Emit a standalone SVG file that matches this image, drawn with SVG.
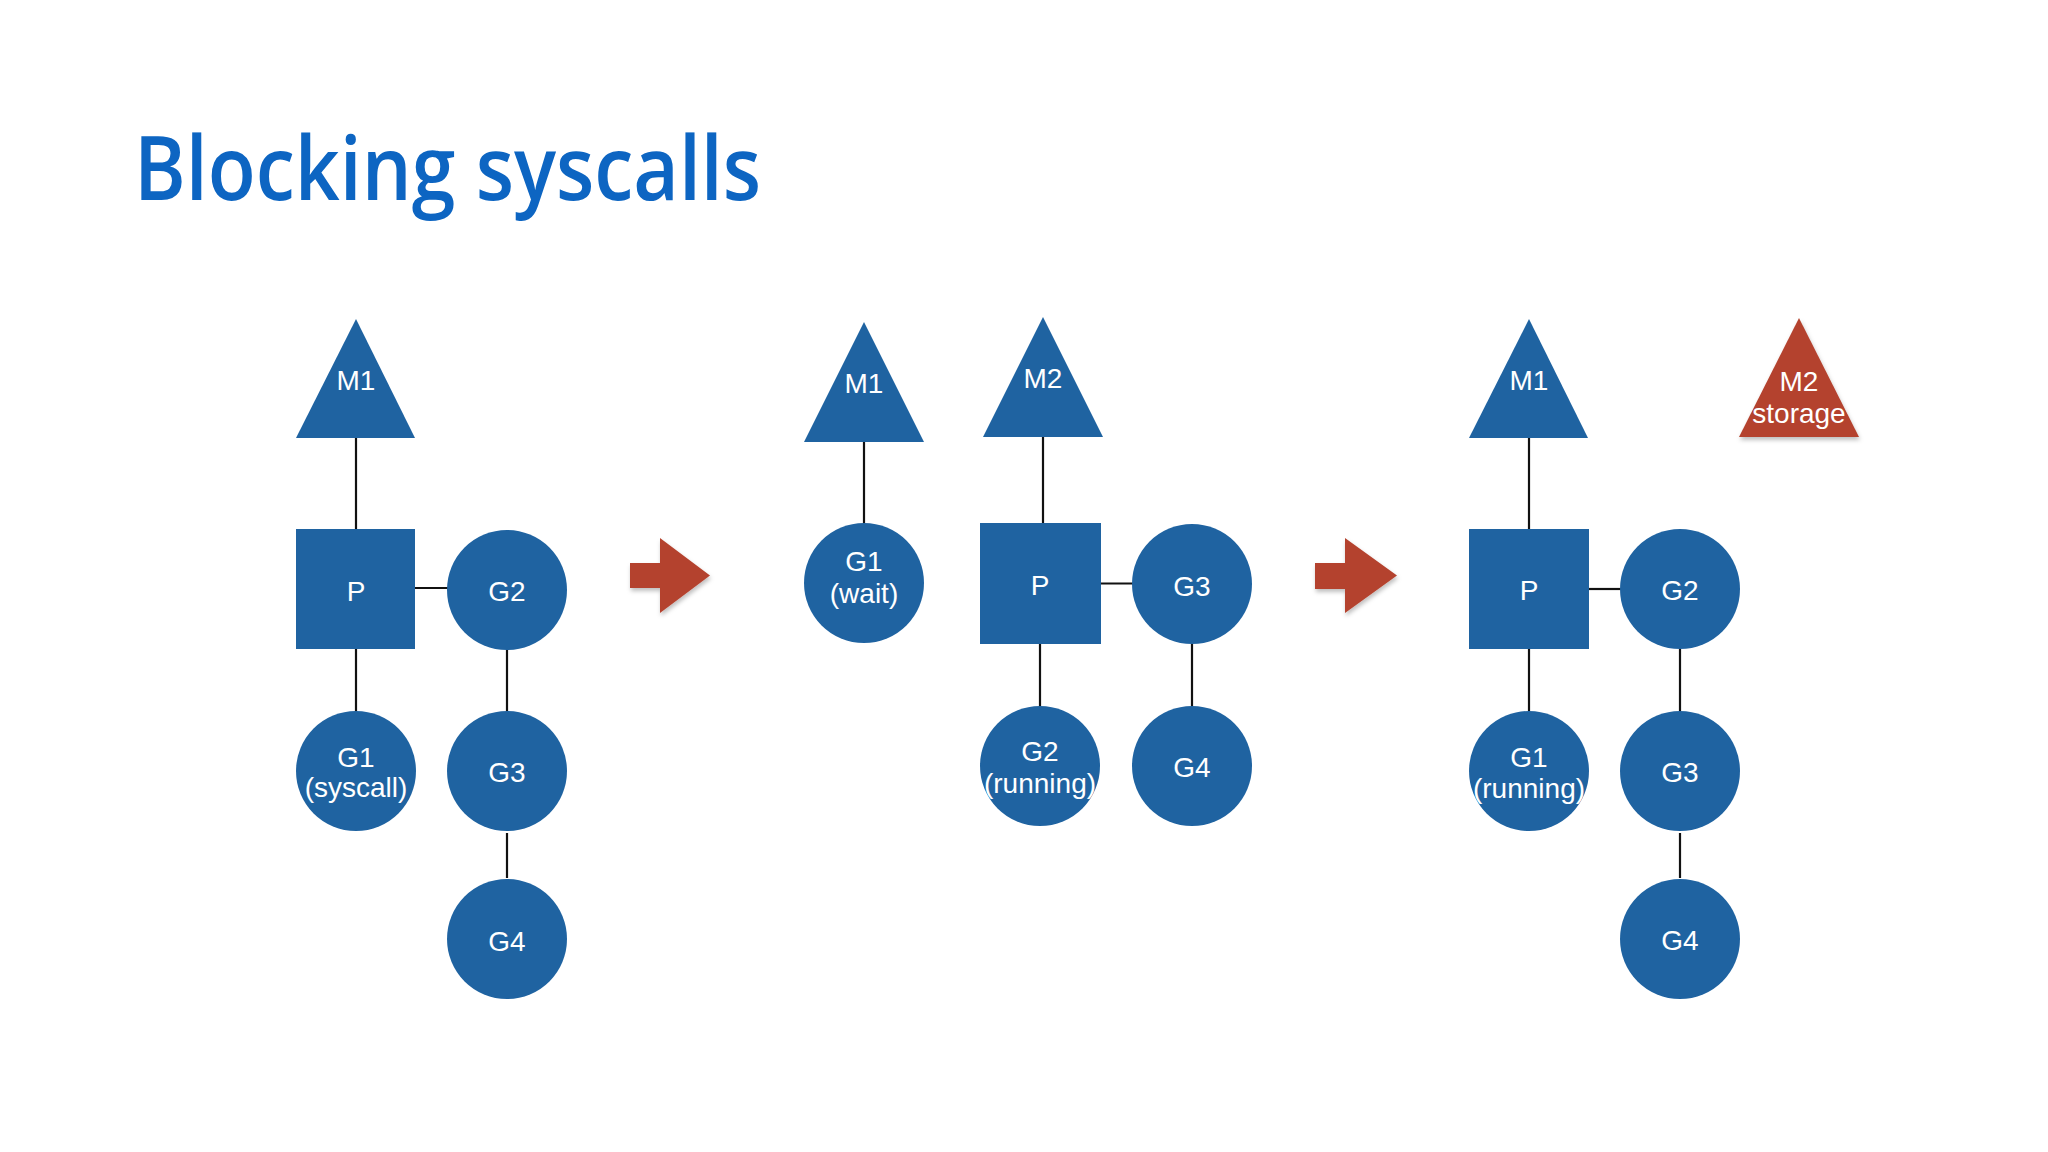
<svg xmlns="http://www.w3.org/2000/svg" width="2048" height="1152" viewBox="0 0 2048 1152">
  <defs>
    <filter id="shadow" x="-20%" y="-20%" width="140%" height="140%">
      <feDropShadow dx="1" dy="3" stdDeviation="2" flood-color="#000" flood-opacity="0.25"/>
    </filter>
  </defs>
  <style>
    .node { fill: #1f63a1; }
    .red { fill: #b4432f; }
    .lbl { fill: #ffffff; font-family: "Liberation Sans", Arial, sans-serif; font-size: 28px; text-anchor: middle; }
    .conn line { stroke: #111111; stroke-width: 2.2; }
    .title { fill: #0d65c2; font-family: "Open Sans", "Liberation Sans", sans-serif; font-weight: 600; font-size: 88px; }
  </style>
  <rect x="0" y="0" width="2048" height="1152" fill="#ffffff"/>

  <text class="title" x="134" y="200" textLength="627" lengthAdjust="spacingAndGlyphs">Blocking syscalls</text>

  <g id="connectors" class="conn">
    <!-- left panel -->
    <line x1="356" y1="438" x2="356" y2="529"/>
    <line x1="415" y1="588" x2="448" y2="588"/>
    <line x1="356" y1="649" x2="356" y2="711"/>
    <line x1="507" y1="649" x2="507" y2="711"/>
    <line x1="507" y1="833" x2="507" y2="878"/>
    <!-- middle panel -->
    <line x1="864" y1="442" x2="864" y2="523"/>
    <line x1="1043" y1="437" x2="1043" y2="527"/>
    <line x1="1101" y1="583.5" x2="1135" y2="583.5"/>
    <line x1="1040" y1="644" x2="1040" y2="706"/>
    <line x1="1192" y1="644" x2="1192" y2="706"/>
    <!-- right panel -->
    <line x1="1529" y1="438" x2="1529" y2="529"/>
    <line x1="1589" y1="589" x2="1621" y2="589"/>
    <line x1="1529" y1="649" x2="1529" y2="711"/>
    <line x1="1680" y1="649" x2="1680" y2="711"/>
    <line x1="1680" y1="833" x2="1680" y2="878"/>
  </g>

  <!-- left panel -->
  <g id="l-m1"><polygon class="node" points="356,319 296,438 415,438"/><text class="lbl" x="356" y="390">M1</text></g>
  <g id="l-p"><rect class="node" x="296" y="529" width="119" height="120"/><text class="lbl" x="356" y="601">P</text></g>
  <g id="l-g2"><circle class="node" cx="507" cy="590" r="60"/><text class="lbl" x="507" y="601">G2</text></g>
  <g id="l-g1"><circle class="node" cx="356" cy="771" r="60"/><text class="lbl" x="356" y="767">G1</text><text class="lbl" x="356" y="797">(syscall)</text></g>
  <g id="l-g3"><circle class="node" cx="507" cy="771" r="60"/><text class="lbl" x="507" y="782">G3</text></g>
  <g id="l-g4"><circle class="node" cx="507" cy="939" r="60"/><text class="lbl" x="507" y="951">G4</text></g>

  <g id="arrow1"><polygon class="red" filter="url(#shadow)" points="630,563 660,563 660,538 710,575.5 660,613 660,588 630,588"/></g>

  <!-- middle panel -->
  <g id="m-m1"><polygon class="node" points="864,322 804,442 924,442"/><text class="lbl" x="864" y="393">M1</text></g>
  <g id="m-g1"><circle class="node" cx="864" cy="583" r="60"/><text class="lbl" x="864" y="571">G1</text><text class="lbl" x="864" y="603">(wait)</text></g>
  <g id="m-m2"><polygon class="node" points="1043,317 983,437 1103,437"/><text class="lbl" x="1043" y="388">M2</text></g>
  <g id="m-p"><rect class="node" x="980" y="523" width="121" height="121"/><text class="lbl" x="1040" y="595">P</text></g>
  <g id="m-g3"><circle class="node" cx="1192" cy="584" r="60"/><text class="lbl" x="1192" y="596">G3</text></g>
  <g id="m-g2"><circle class="node" cx="1040" cy="766" r="60"/><text class="lbl" x="1040" y="761">G2</text><text class="lbl" x="1040" y="793">(running)</text></g>
  <g id="m-g4"><circle class="node" cx="1192" cy="766" r="60"/><text class="lbl" x="1192" y="777">G4</text></g>

  <g id="arrow2"><polygon class="red" filter="url(#shadow)" points="1315,563 1345,563 1345,538 1397,575.5 1345,613 1345,589 1315,589"/></g>

  <!-- right panel -->
  <g id="r-m1"><polygon class="node" points="1529,319 1469,438 1588,438"/><text class="lbl" x="1529" y="390">M1</text></g>
  <g id="r-m2"><polygon class="red" filter="url(#shadow)" points="1799,318 1739,437 1859,437"/><text class="lbl" x="1799" y="391">M2</text><text class="lbl" x="1799" y="423">storage</text></g>
  <g id="r-p"><rect class="node" x="1469" y="529" width="120" height="120"/><text class="lbl" x="1529" y="600">P</text></g>
  <g id="r-g2"><circle class="node" cx="1680" cy="589" r="60"/><text class="lbl" x="1680" y="600">G2</text></g>
  <g id="r-g1"><circle class="node" cx="1529" cy="771" r="60"/><text class="lbl" x="1529" y="767">G1</text><text class="lbl" x="1529" y="798">(running)</text></g>
  <g id="r-g3"><circle class="node" cx="1680" cy="771" r="60"/><text class="lbl" x="1680" y="782">G3</text></g>
  <g id="r-g4"><circle class="node" cx="1680" cy="939" r="60"/><text class="lbl" x="1680" y="950">G4</text></g>
</svg>
